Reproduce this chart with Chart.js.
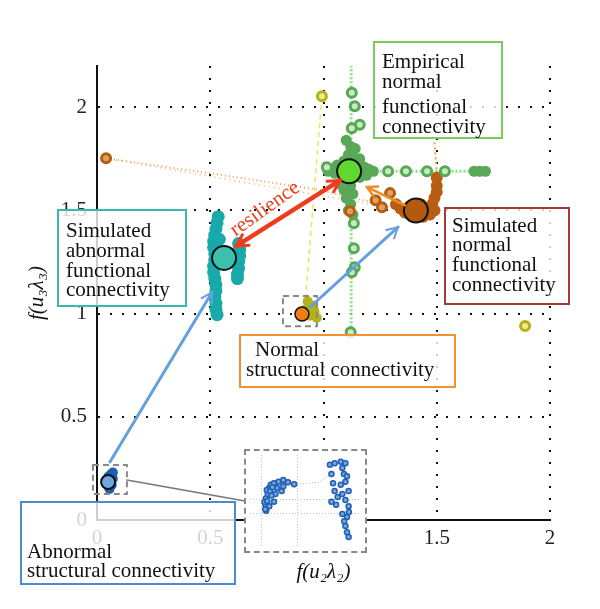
<!doctype html>
<html lang="en">
<head>
    <meta charset="utf-8">
    <title>Connectivity map</title>
    <script src="https://cdn.jsdelivr.net/npm/chart.js"></script>
    <style>
        body {
            margin: 0;
            background: #fff;
        }
        #wrap {
            position: relative;
            width: 600px;
            height: 609px;
        }
        #inset {
            position: absolute;
            left: 244px;
            top: 449px;
            width: 123px;
            height: 104px;
            box-sizing: border-box;
            border: 2px dashed #888;
            background: #fff;
        }
        #inset canvas { display: block; }
    </style>
</head>
<body>
<div id="wrap">
    <canvas id="mainChart" width="600" height="609"></canvas>
    <div id="inset"><canvas id="insetChart" width="119" height="100"></canvas></div>
</div>
<script>
    // axis ticks
    const xTicks = [0, 0.5, 1, 1.5, 2];
    const yTicks = [0, 0.5, 1, 1.5, 2];

    // empirical normal functional connectivity
    const empMean = [{x: 1.113, y: 1.69}];
    const empRings = [
        {x: 1.125, y: 2.242}, {x: 1.125, y: 2.07}, {x: 1.138, y: 2.005}, {x: 1.16, y: 1.915},
        {x: 1.125, y: 1.898}, {x: 1.134, y: 1.438}, {x: 1.134, y: 1.317}, {x: 1.138, y: 1.225},
        {x: 1.125, y: 1.20}, {x: 1.12, y: 0.91}, {x: 1.285, y: 1.69}, {x: 1.364, y: 1.69},
        {x: 1.457, y: 1.69}, {x: 1.536, y: 1.69}, {x: 1.015, y: 1.709}
    ];
    const empBlob = [
        {x: 1.10, y: 1.84}, {x: 1.12, y: 1.81}, {x: 1.14, y: 1.80}, {x: 1.11, y: 1.77},
        {x: 1.13, y: 1.76}, {x: 1.16, y: 1.75}, {x: 1.09, y: 1.74}, {x: 1.06, y: 1.72},
        {x: 1.03, y: 1.70}, {x: 1.02, y: 1.69}, {x: 1.05, y: 1.68}, {x: 1.08, y: 1.70},
        {x: 1.15, y: 1.72}, {x: 1.18, y: 1.71}, {x: 1.20, y: 1.70}, {x: 1.22, y: 1.69},
        {x: 1.19, y: 1.67}, {x: 1.16, y: 1.66}, {x: 1.10, y: 1.65}, {x: 1.07, y: 1.63},
        {x: 1.12, y: 1.62}, {x: 1.09, y: 1.60}, {x: 1.13, y: 1.58}, {x: 1.10, y: 1.56},
        {x: 1.12, y: 1.53}, {x: 1.11, y: 1.50}, {x: 1.13, y: 1.48},
        {x: 1.665, y: 1.69}, {x: 1.69, y: 1.69}, {x: 1.715, y: 1.69}, {x: 1.457, y: 1.69}
    ];
    const empVertical = [{x: 1.122, y: 2.242}, {x: 1.122, y: 0.91}];
    const empHorizontal = [{x: 1.0, y: 1.69}, {x: 1.72, y: 1.69}];

    // simulated normal functional connectivity
    const simNormMean = [{x: 1.408, y: 1.50}];
    const simNormBlob = [
        {x: 1.38, y: 1.52}, {x: 1.43, y: 1.53}, {x: 1.46, y: 1.51}, {x: 1.47, y: 1.48},
        {x: 1.44, y: 1.47}, {x: 1.40, y: 1.47}, {x: 1.36, y: 1.49}, {x: 1.34, y: 1.51},
        {x: 1.32, y: 1.53}, {x: 1.50, y: 1.66}, {x: 1.50, y: 1.62}, {x: 1.50, y: 1.59},
        {x: 1.49, y: 1.56}, {x: 1.48, y: 1.53}, {x: 1.49, y: 1.50}
    ];
    const simNormRings = [
        {x: 1.117, y: 1.496}, {x: 1.258, y: 1.516}, {x: 1.294, y: 1.584},
        {x: 1.23, y: 1.55}, {x: 0.04, y: 1.753}
    ];
    const trailA = [{x: 0.04, y: 1.753}, {x: 0.5, y: 1.68}, {x: 0.98, y: 1.60}, {x: 1.25, y: 1.53}];
    const trailB = [{x: 0.04, y: 1.753}, {x: 0.6, y: 1.645}, {x: 1.0, y: 1.57}, {x: 1.32, y: 1.51}];
    const trailC = [{x: 1.49, y: 1.83}, {x: 1.51, y: 1.55}];

    // simulated abnormal functional connectivity
    const simAbnMean = [{x: 0.561, y: 1.27}];
    const simAbnBlob = [
        {x: 0.535, y: 1.47}, {x: 0.53, y: 1.44}, {x: 0.525, y: 1.41}, {x: 0.52, y: 1.38},
        {x: 0.515, y: 1.35}, {x: 0.515, y: 1.32}, {x: 0.52, y: 1.29}, {x: 0.52, y: 1.26},
        {x: 0.515, y: 1.23}, {x: 0.515, y: 1.20}, {x: 0.52, y: 1.17}, {x: 0.525, y: 1.14},
        {x: 0.525, y: 1.11}, {x: 0.52, y: 1.08}, {x: 0.525, y: 1.05}, {x: 0.525, y: 1.02},
        {x: 0.53, y: 0.995}, {x: 0.54, y: 1.36}, {x: 0.545, y: 1.30},
        {x: 0.625, y: 1.34}, {x: 0.63, y: 1.31}, {x: 0.63, y: 1.28}, {x: 0.625, y: 1.25},
        {x: 0.625, y: 1.22}, {x: 0.62, y: 1.19}, {x: 0.62, y: 1.17}, {x: 0.59, y: 1.29},
        {x: 0.60, y: 1.27}
    ];

    // normal / abnormal structural connectivity
    const normStruct = [{x: 0.905, y: 0.998}];
    const normStructBlob = [
        {x: 0.93, y: 1.06}, {x: 0.95, y: 1.04}, {x: 0.96, y: 1.01}, {x: 0.94, y: 0.99},
        {x: 0.97, y: 0.98}, {x: 0.92, y: 1.02}
    ];
    const oliveRings = [{x: 0.993, y: 2.053}, {x: 1.89, y: 0.94}];
    const oliveLine = [{x: 0.993, y: 2.053}, {x: 0.918, y: 1.04}];
    const abnStruct = [{x: 0.049, y: 0.184}];
    const abnStructBlob = [
        {x: 0.06, y: 0.22}, {x: 0.07, y: 0.20}, {x: 0.065, y: 0.17}, {x: 0.055, y: 0.15},
        {x: 0.07, y: 0.23}, {x: 0.05, y: 0.21}
    ];

    // inset (zoom of abnormal structural connectivity)
    const insetLeft = [
        {x: 19.3, y: 62.7}, {x: 18.7, y: 56}, {x: 19, y: 49.3}, {x: 21, y: 44.3},
        {x: 22.7, y: 37.7}, {x: 24.3, y: 34.3}, {x: 27.7, y: 32.7}, {x: 32.7, y: 31},
        {x: 37.7, y: 29.3}, {x: 42.7, y: 31.7}, {x: 49.3, y: 33.7}, {x: 29.3, y: 44.3},
        {x: 36, y: 41}, {x: 37.7, y: 36}, {x: 27.7, y: 52.7}, {x: 22.7, y: 57.7},
        {x: 18.3, y: 61}, {x: 20, y: 40}, {x: 25, y: 46}, {x: 31, y: 38},
        {x: 17.5, y: 53}, {x: 20.5, y: 52}, {x: 23.5, y: 41}, {x: 26, y: 37}
    ];
    const insetRight = [
        {x: 87.7, y: 12.7}, {x: 92.7, y: 11}, {x: 99.3, y: 9.3}, {x: 104.3, y: 11},
        {x: 101, y: 16}, {x: 102.7, y: 22.7}, {x: 89.3, y: 22.7}, {x: 91, y: 32.7},
        {x: 92.7, y: 41}, {x: 96, y: 47.7}, {x: 101, y: 44.3}, {x: 104.3, y: 51},
        {x: 107.7, y: 41}, {x: 107.7, y: 57.7}, {x: 101, y: 66}, {x: 106, y: 69.3},
        {x: 104.3, y: 79.3}, {x: 106, y: 86}, {x: 107.7, y: 91}, {x: 89.3, y: 52.7},
        {x: 94.3, y: 56}, {x: 104.3, y: 31}, {x: 99.3, y: 34.3}, {x: 106, y: 25},
        {x: 103, y: 74}, {x: 108, y: 64}
    ];
    const insetLink = [{x: 49.3, y: 33.7}, {x: 76, y: 31.7}, {x: 89.3, y: 22.7}];
    const insetGridX = [14, 53];
    const insetGridY = [50, 66];

    // arrows [from, to] in data units
    const resilienceArrow = [[1.073, 1.646], [0.614, 1.327]];
    const blueArrows = [
        [[0.057, 0.281], [0.508, 1.104]],
        [[0.940, 1.031], [1.329, 1.419]]
    ];
    const orangeArrow = [[1.360, 1.525], [1.192, 1.613]];
    const zoomBoxes = [[[-0.018, 0.266], [0.132, 0.126]], [[0.821, 1.085], [0.971, 0.939]]];
    const zoomLink = [[0.132, 0.194], [0.653, 0.092]];

    const serif = "'Liberation Serif', 'DejaVu Serif', serif";

    function points(data, fill, edge, r, bw) {
        return {
            data: data,
            pointRadius: r,
            pointHoverRadius: r,
            pointBackgroundColor: fill,
            pointBorderColor: edge,
            pointBorderWidth: bw,
            clip: false
        };
    }

    function line(data, color, width, dash) {
        return {
            data: data,
            showLine: true,
            borderColor: color,
            borderWidth: width,
            borderDash: dash,
            pointRadius: 0
        };
    }

    function arrowHead(ctx, tip, from, size) {
        const ang = Math.atan2(tip[1] - from[1], tip[0] - from[0]);
        ctx.beginPath();
        ctx.moveTo(tip[0] - size * Math.cos(ang - 0.5), tip[1] - size * Math.sin(ang - 0.5));
        ctx.lineTo(tip[0], tip[1]);
        ctx.lineTo(tip[0] - size * Math.cos(ang + 0.5), tip[1] - size * Math.sin(ang + 0.5));
        ctx.stroke();
    }

    function labelBox(ctx, rect, color, lines) {
        ctx.fillStyle = 'rgba(255,255,255,0.8)';
        ctx.fillRect(rect[0], rect[1], rect[2], rect[3]);
        ctx.strokeStyle = color;
        ctx.lineWidth = 2;
        ctx.setLineDash([]);
        ctx.strokeRect(rect[0], rect[1], rect[2], rect[3]);
        ctx.fillStyle = '#111';
        ctx.font = '21px ' + serif;
        ctx.textAlign = 'left';
        ctx.textBaseline = 'middle';
        lines.forEach(l => ctx.fillText(l[0], l[1], l[2]));
    }

    const annotations = {
        id: 'annotations',
        afterDatasetsDraw(chart) {
            const ctx = chart.ctx;
            const xs = chart.scales.x, ys = chart.scales.y;
            const px = p => [xs.getPixelForValue(p[0]), ys.getPixelForValue(p[1])];
            ctx.save();
            ctx.lineCap = 'round';

            // grey link towards the inset
            const a = px(zoomLink[0]), b = px(zoomLink[1]);
            ctx.strokeStyle = '#777';
            ctx.lineWidth = 1.5;
            ctx.beginPath(); ctx.moveTo(a[0], a[1]); ctx.lineTo(b[0], b[1]); ctx.stroke();

            // dashed zoom boxes
            ctx.setLineDash([6, 4]);
            ctx.lineCap = 'butt';
            ctx.strokeStyle = '#888';
            ctx.lineWidth = 2;
            zoomBoxes.forEach(z => {
                const p = px(z[0]), q = px(z[1]);
                ctx.strokeRect(p[0], p[1], q[0] - p[0], q[1] - p[1]);
            });
            ctx.setLineDash([]);
            ctx.lineCap = 'round';

            // blue arrows
            ctx.strokeStyle = '#64a0dc';
            ctx.lineWidth = 3;
            blueArrows.forEach(ar => {
                const f = px(ar[0]), t = px(ar[1]);
                ctx.beginPath(); ctx.moveTo(f[0], f[1]); ctx.lineTo(t[0], t[1]); ctx.stroke();
                ctx.lineWidth = 2;
                arrowHead(ctx, t, f, 12);
                ctx.lineWidth = 3;
            });

            // orange arrow
            let f = px(orangeArrow[0]), t = px(orangeArrow[1]);
            ctx.strokeStyle = '#f08a24';
            ctx.lineWidth = 2.5;
            ctx.beginPath(); ctx.moveTo(f[0], f[1]); ctx.lineTo(t[0], t[1]); ctx.stroke();
            arrowHead(ctx, t, f, 11);

            // resilience arrow (both ends)
            f = px(resilienceArrow[0]); t = px(resilienceArrow[1]);
            ctx.strokeStyle = '#f03c1c';
            ctx.lineWidth = 4.5;
            ctx.beginPath(); ctx.moveTo(f[0], f[1]); ctx.lineTo(t[0], t[1]); ctx.stroke();
            ctx.lineWidth = 3;
            arrowHead(ctx, t, f, 13);
            arrowHead(ctx, f, t, 13);

            ctx.save();
            ctx.translate(265, 209);
            ctx.rotate(-0.62);
            ctx.fillStyle = '#e8401c';
            ctx.font = '21px ' + serif;
            ctx.textAlign = 'center';
            ctx.textBaseline = 'middle';
            ctx.fillText('resilience', 0, 0);
            ctx.restore();

            // text boxes
            labelBox(ctx, [374, 42, 128, 96], '#7dc95e',
                [['Empirical', 382, 62], ['normal', 382, 82], ['functional', 382, 107], ['connectivity', 382, 127]]);
            labelBox(ctx, [445, 208, 124, 96], '#a33a3a',
                [['Simulated', 452, 226], ['normal', 452, 245], ['functional', 452, 265], ['connectivity', 452, 285]]);
            labelBox(ctx, [58, 210, 128, 96], '#3cb6b2',
                [['Simulated', 66, 231], ['abnormal', 66, 251], ['functional', 66, 271], ['connectivity', 66, 290]]);
            labelBox(ctx, [240, 335, 215, 52], '#f0922e',
                [['Normal', 255, 350], ['structural connectivity', 246, 370]]);
            labelBox(ctx, [21, 502, 214, 82], '#4d8ad0',
                [['Abnormal', 27, 552], ['structural connectivity', 27, 571]]);
            ctx.restore();
        }
    };

    const mainChart = new Chart(document.getElementById('mainChart').getContext('2d'), {
        type: 'scatter',
        data: {
            datasets: [
                points(empMean, '#5fd830', '#111', 12, 2),
                points(simNormMean, '#b35a0e', '#111', 12, 2),
                points(simAbnMean, '#3cc0ae', '#111', 12, 2),
                points(normStruct, '#f07f10', '#111', 7, 1.5),
                points(abnStruct, '#6fa8e0', '#111', 7, 2),
                points(abnStructBlob, '#1a5fb0', '#1a5fb0', 5, 0),
                points(empRings, '#c8ecc0', '#58a858', 4.5, 3),
                points(simNormRings, '#e0a060', '#b35e12', 4.5, 3),
                points(oliveRings, '#ecec90', '#b4b01a', 4.5, 3),
                points(empBlob, '#58a858', '#58a858', 5.5, 0),
                points(simNormBlob, '#b85e12', '#b85e12', 6, 0),
                points(simAbnBlob, '#18a9aa', '#18a9aa', 6.5, 0),
                points(normStructBlob, '#b4b01a', '#b4b01a', 5, 0),
                line(trailA, '#f0a040', 2, [1, 3]),
                line(trailB, '#f4b060', 1.5, [1, 4]),
                line(trailC, '#f0a040', 2, [2, 3]),
                line(oliveLine, '#f2e25a', 1.5, [5, 4]),
                line(empVertical, '#86e486', 3, [2, 2]),
                line(empHorizontal, '#86e486', 3, [2, 2])
            ]
        },
        options: {
            responsive: false,
            animation: false,
            layout: { padding: { top: 66, right: 50, left: 0, bottom: 0 } },
            plugins: {
                legend: { display: false },
                tooltip: { enabled: false }
            },
            scales: {
                x: {
                    min: 0,
                    max: 2,
                    afterBuildTicks: s => { s.ticks = xTicks.map(v => ({value: v})); },
                    afterFit: s => { s.height = 89; },
                    ticks: { font: { family: serif, size: 21 }, color: '#222', padding: 6, callback: v => String(v) },
                    grid: { color: '#111', lineWidth: 2, drawTicks: false },
                    border: { color: '#111', width: 2, dash: [2, 10] },
                    title: {
                        display: true,
                        text: 'f(u\u2082\u03bb\u2082)',
                        font: { family: serif, size: 21, style: 'italic' },
                        color: '#111',
                        padding: { top: 0, bottom: 24 }
                    }
                },
                y: {
                    min: 0,
                    max: 2.2,
                    afterBuildTicks: s => { s.ticks = yTicks.map(v => ({value: v})); },
                    afterFit: s => { s.width = 97; },
                    ticks: { font: { family: serif, size: 21 }, color: '#222', padding: 10, callback: v => String(v) },
                    grid: { color: '#111', lineWidth: 2, drawTicks: false },
                    border: { color: '#111', width: 2, dash: [2, 10] },
                    title: {
                        display: true,
                        text: 'f(u\u2083\u03bb\u2083)',
                        font: { family: serif, size: 21, style: 'italic' },
                        color: '#111',
                        padding: { top: 25, bottom: 0 }
                    }
                }
            }
        },
        plugins: [annotations]
    });

    const insetChart = new Chart(document.getElementById('insetChart').getContext('2d'), {
        type: 'scatter',
        data: {
            datasets: [
                points(insetLeft, '#7aa6dc', '#1f5fb5', 2.5, 1.5),
                points(insetRight, '#7aa6dc', '#1f5fb5', 2.5, 1.5),
                line(insetLink, 'rgba(90,140,210,0.6)', 1, [1, 2])
            ]
        },
        options: {
            responsive: false,
            animation: false,
            layout: { padding: 0 },
            plugins: {
                legend: { display: false },
                tooltip: { enabled: false }
            },
            scales: {
                x: {
                    min: 2,
                    max: 121,
                    afterBuildTicks: s => { s.ticks = insetGridX.map(v => ({value: v})); },
                    afterFit: s => { s.height = 0; },
                    ticks: { display: false },
                    grid: { color: '#c4c4c4', lineWidth: 1, drawTicks: false },
                    border: { display: false, dash: [1, 2] }
                },
                y: {
                    min: 2,
                    max: 102,
                    reverse: true,
                    afterBuildTicks: s => { s.ticks = insetGridY.map(v => ({value: v})); },
                    afterFit: s => { s.width = 0; },
                    ticks: { display: false },
                    grid: { color: '#c4c4c4', lineWidth: 1, drawTicks: false },
                    border: { display: false, dash: [1, 2] }
                }
            }
        }
    });
</script>
</body>
</html>
